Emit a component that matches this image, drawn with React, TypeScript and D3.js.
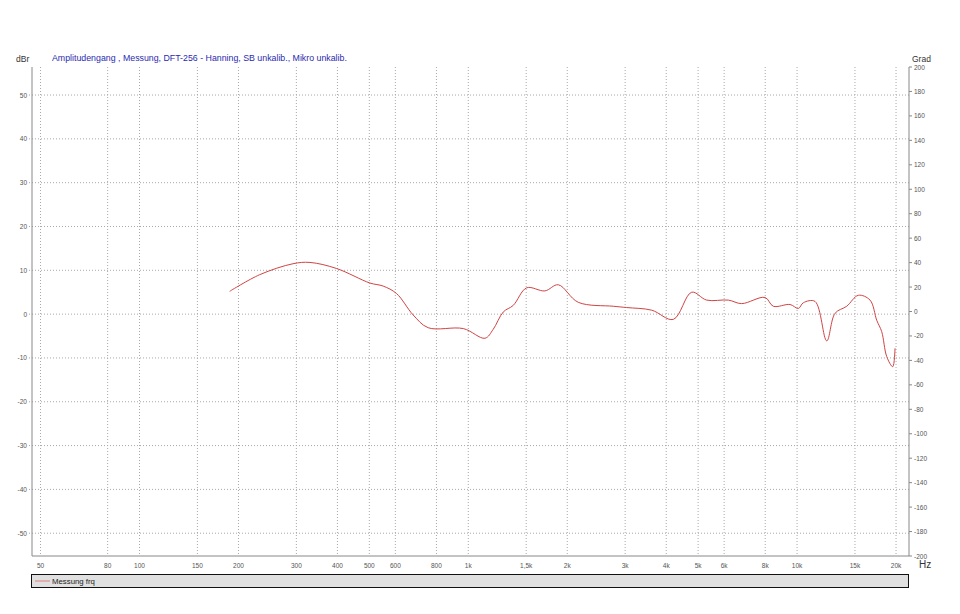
import React from "react";
import * as d3 from "d3";

const freqTicks = [50, 80, 100, 150, 200, 300, 400, 500, 600, 800, 1000, 1500, 2000, 3000, 4000, 5000, 6000, 8000, 10000, 15000, 20000];
const freqLabels = ["50", "80", "100", "150", "200", "300", "400", "500", "600", "800", "1k", "1,5k", "2k", "3k", "4k", "5k", "6k", "8k", "10k", "15k", "20k"];
const dbTicks = [50, 40, 30, 20, 10, 0, -10, -20, -30, -40, -50];
const gradTicks = [200, 180, 160, 140, 120, 100, 80, 60, 40, 20, 0, -20, -40, -60, -80, -100, -120, -140, -160, -180, -200];

const curveFreq = [188, 232, 293, 330, 398, 502, 551, 605, 680, 755, 966, 1124, 1190, 1278, 1370, 1505, 1710, 1878, 2160, 2760, 3033, 3613, 4203, 4780, 5310, 6180, 6785, 7990, 8465, 9520, 10090, 10450, 11340, 12310, 13050, 14160, 15360, 16670, 17470, 18090, 18740, 19540, 19860];
const curveDb = [5.2, 9.0, 11.5, 11.8, 10.4, 7.1, 6.4, 4.7, -0.2, -3.1, -3.3, -5.5, -3.5, 0.5, 2.0, 6.0, 5.3, 6.7, 2.7, 1.8, 1.5, 0.9, -1.2, 5.0, 3.2, 3.2, 2.4, 3.8, 1.8, 2.2, 1.3, 2.6, 2.9, -6.1, 0.2, 1.8, 4.3, 3.2, -1.4, -4.0, -9.7, -12.0, -7.8];

const title = "Amplitudengang , Messung, DFT-256 - Hanning, SB unkalib., Mikro unkalib.";
const legendLabel = "Messung frq";

export default function App() {
  const W = 960, H = 614;
  const L = 32, R = 909, T = 67, B = 556;
  const x = d3.scaleLog().domain([47.1, 21900]).range([L, R]);
  const y = d3.scaleLinear().domain([-55.2, 56.4]).range([B, T]);
  const y2 = d3.scaleLinear().domain([-200, 200]).range([B, T]);
  const pts = curveFreq.map((f, i) => [f, curveDb[i]] as [number, number]);
  const line = d3.line<[number, number]>().x(d => x(d[0])).y(d => y(d[1])).curve(d3.curveCatmullRom.alpha(0.5));
  const font = "'Liberation Sans', Arial, sans-serif";
  return (
    <svg width={W} height={H} style={{ position: "absolute", left: 0, top: 0, background: "#fff" }} fontFamily={font}>
      <rect x={0} y={0} width={W} height={H} fill="#fff" />
      {freqTicks.map((f, i) => (
        <g key={"vx" + i}>
          <line x1={x(f)} x2={x(f)} y1={T} y2={B} stroke="#a8a8a8" strokeWidth={1} strokeDasharray="1,2" />
          <text x={x(f)} y={568} fontSize={6.5} fill="#555" textAnchor="middle">{freqLabels[i]}</text>
        </g>
      ))}
      {dbTicks.map((v, i) => (
        <g key={"hy" + i}>
          <line x1={L - 3} x2={R} y1={y(v)} y2={y(v)} stroke="#a8a8a8" strokeWidth={1} strokeDasharray="1,2" />
          <text x={27} y={y(v) + 2.5} fontSize={6.5} fill="#555" textAnchor="end">{v}</text>
        </g>
      ))}
      {gradTicks.map((v, i) => (
        <g key={"gy" + i}>
          <line x1={R} x2={R + 3} y1={y2(v)} y2={y2(v)} stroke="#888" strokeWidth={1} />
          <text x={R + 5} y={y2(v) + 2.5} fontSize={6.5} fill="#555" textAnchor="start">{v}</text>
        </g>
      ))}
      <line x1={L} x2={L} y1={T} y2={B} stroke="#888" strokeWidth={1} />
      <line x1={R} x2={R} y1={T} y2={B} stroke="#888" strokeWidth={1} />
      <line x1={L} x2={R} y1={B} y2={B} stroke="#888" strokeWidth={1} />
      <path d={line(pts) || ""} fill="none" stroke="#d04444" strokeWidth={1} />
      <text x={16} y={62} fontSize={8.5} fill="#333">dBr</text>
      <text x={912} y={62} fontSize={8.5} fill="#333">Grad</text>
      <text x={919} y={568} fontSize={10} fill="#333">Hz</text>
      <text x={52} y={61} fontSize={8.8} fill="#2a2ab0">{title}</text>
      <rect x={31.5} y={574.5} width={877} height={13} fill="#e0e0e0" stroke="#111" strokeWidth={1} />
      <line x1={35} x2={50} y1={581} y2={581} stroke="#e08080" strokeWidth={1} />
      <text x={52} y={584} fontSize={7.8} fill="#222">{legendLabel}</text>
    </svg>
  );
}
